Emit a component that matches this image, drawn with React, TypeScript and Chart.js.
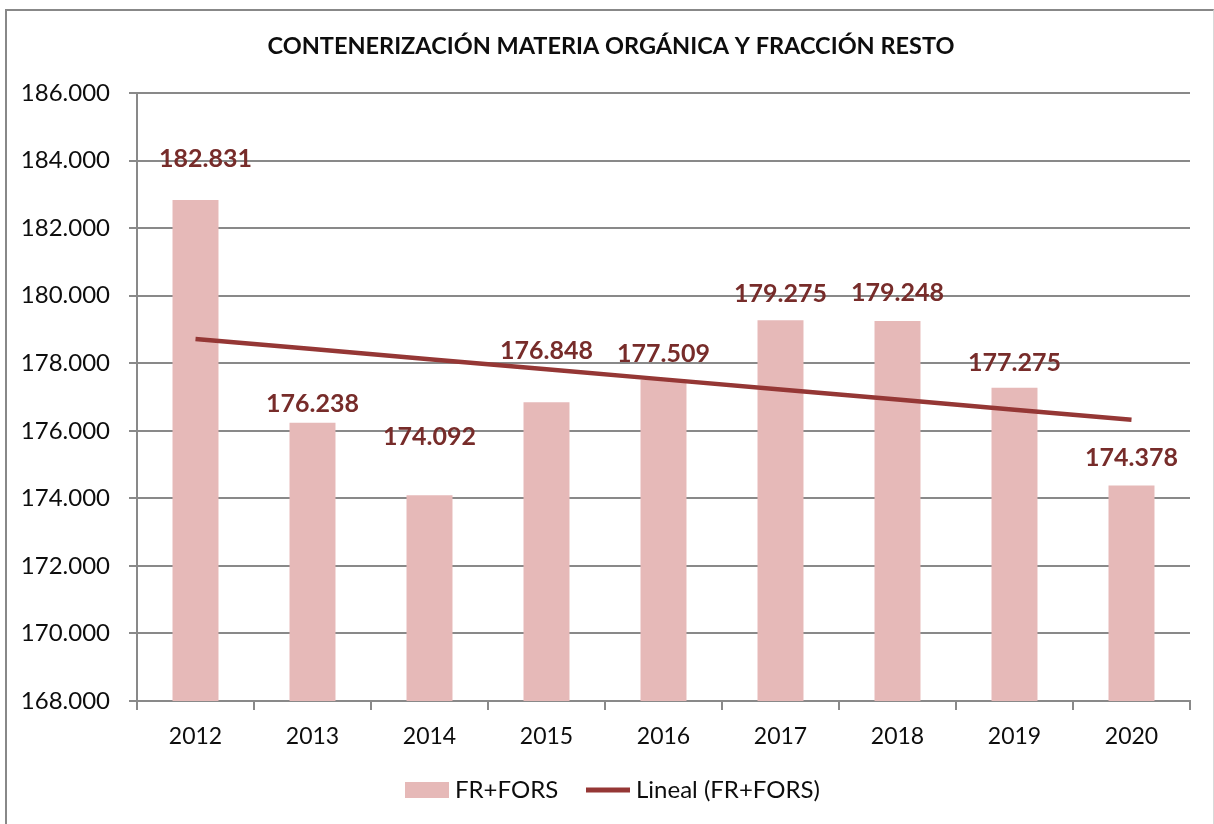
import { useEffect, useRef } from "react";
import { Chart, registerables } from "chart.js";

Chart.register(...registerables);

// ---- data ----
const categories = ["2012", "2013", "2014", "2015", "2016", "2017", "2018", "2019", "2020"];
const values = [182831, 176238, 174092, 176848, 177509, 179275, 179248, 177275, 174378];
const seriesName = "FR+FORS";
const trendName = "Lineal (FR+FORS)";
const chartTitle = "CONTENERIZACIÓN MATERIA ORGÁNICA Y FRACCIÓN RESTO";
const yMin = 168000;
const yMax = 186000;
const yStep = 2000;

// ---- manual label placement (pixels, relative to bar top) ----
const labelDx = [10, 0, 0, 0, 0, 0, 0, 0, 0];
const labelDy = [-41, -19, -58, -51, -26, -26, -28, -25, -28];

// ---- styles ----
const BAR_COLOR = "#E6B9B8";
const LINE_COLOR = "#953735";
const LABEL_COLOR = "#772C2A";
const GRID_COLOR = "#898989";
const TEXT_COLOR = "#0D0D0D";
const FONT = "Lato";

function linearTrend(v: number[]): number[] {
  const n = v.length;
  const mx = (n - 1) / 2;
  const my = v.reduce((a, b) => a + b, 0) / n;
  let num = 0;
  let den = 0;
  v.forEach((y, i) => {
    num += (i - mx) * (y - my);
    den += (i - mx) * (i - mx);
  });
  const slope = num / den;
  return v.map((_, i) => my + slope * (i - mx));
}

const fmt = (n: number) =>
  Math.round(n)
    .toString()
    .replace(/\B(?=(\d{3})+(?!\d))/g, ".");

const decorPlugin = {
  id: "decor",
  afterDatasetsDraw(chart: any) {
    const ctx = chart.ctx as CanvasRenderingContext2D;
    const meta = chart.getDatasetMeta(1);
    ctx.save();
    ctx.font = `bold 25px ${FONT}`;
    ctx.fillStyle = LABEL_COLOR;
    ctx.textAlign = "center";
    ctx.textBaseline = "middle";
    meta.data.forEach((bar: any, i: number) => {
      ctx.fillText(fmt(values[i]), bar.x + labelDx[i], bar.y + labelDy[i]);
    });
    ctx.restore();
  },
  afterDraw(chart: any) {
    const ctx = chart.ctx as CanvasRenderingContext2D;
    ctx.save();
    // title
    ctx.font = `bold 23.5px ${FONT}`;
    ctx.fillStyle = TEXT_COLOR;
    ctx.textAlign = "center";
    ctx.textBaseline = "middle";
    ctx.fillText(chartTitle, 611, 46);
    // legend
    const ly = 790;
    ctx.font = `24px ${FONT}`;
    ctx.textAlign = "left";
    ctx.fillStyle = BAR_COLOR;
    ctx.fillRect(405, ly - 8, 44, 16);
    ctx.fillStyle = TEXT_COLOR;
    ctx.fillText(seriesName, 455, ly);
    ctx.strokeStyle = LINE_COLOR;
    ctx.lineWidth = 5;
    ctx.beginPath();
    ctx.moveTo(586, ly);
    ctx.lineTo(630, ly);
    ctx.stroke();
    ctx.fillText(trendName, 636, ly);
    ctx.restore();
  },
};

export default function App() {
  const canvasRef = useRef<HTMLCanvasElement | null>(null);

  useEffect(() => {
    let chart: Chart | null = null;
    let cancelled = false;
    const build = () => {
      if (cancelled || !canvasRef.current) return;
      chart = new Chart(canvasRef.current, {
        type: "bar",
        data: {
          labels: categories,
          datasets: [
            {
              type: "line",
              label: trendName,
              data: linearTrend(values),
              borderColor: LINE_COLOR,
              backgroundColor: LINE_COLOR,
              borderWidth: 4.5,
              pointRadius: 0,
              tension: 0,
              order: 0,
            } as any,
            {
              type: "bar",
              label: seriesName,
              data: values,
              backgroundColor: BAR_COLOR,
              borderWidth: 0,
              barPercentage: 0.393,
              categoryPercentage: 1,
              order: 1,
            },
          ],
        },
        options: {
          responsive: false,
          animation: false,
          layout: { padding: { top: 93, right: 24, left: 0, bottom: 0 } },
          plugins: {
            legend: { display: false },
            title: { display: false },
            tooltip: { enabled: false },
          },
          scales: {
            x: {
              grid: {
                display: true,
                drawOnChartArea: false,
                drawTicks: true,
                tickLength: 9,
                color: GRID_COLOR,
                lineWidth: 2,
                offset: true,
              },
              border: { display: true, color: GRID_COLOR, width: 2 },
              ticks: {
                font: { family: FONT, size: 23 },
                color: TEXT_COLOR,
                padding: 13,
                maxRotation: 0,
              },
              afterFit: (s: any) => {
                s.height = 123;
              },
            },
            y: {
              min: yMin,
              max: yMax,
              grid: {
                color: GRID_COLOR,
                lineWidth: 2,
                tickLength: 8,
              },
              border: { display: true, color: GRID_COLOR, width: 2 },
              ticks: {
                stepSize: yStep,
                callback: (v: any) => fmt(Number(v)),
                font: { family: FONT, size: 24 },
                color: TEXT_COLOR,
                padding: 19,
              },
              afterFit: (s: any) => {
                s.width = 137;
              },
            },
          },
        },
        plugins: [decorPlugin],
      });
    };
    const fontsReady = (document as any).fonts
      ? Promise.all([
          (document as any).fonts.load(`23px ${FONT}`),
          (document as any).fonts.load(`bold 24px ${FONT}`),
        ]).catch(() => null)
      : Promise.resolve(null);
    fontsReady.then(build);
    return () => {
      cancelled = true;
      if (chart) chart.destroy();
    };
  }, []);

  return (
    <div
      style={{
        position: "fixed",
        left: 0,
        top: 0,
        width: 1214,
        height: 824,
        background: "#fff",
        overflow: "hidden",
      }}
    >
      <div
        style={{
          position: "absolute",
          left: 5,
          top: 9,
          width: 1206,
          height: 830,
          borderTop: "2px solid #888",
          borderLeft: "2px solid #888",
          borderRight: "1px solid #d9d9d9",
        }}
      />
      <canvas
        ref={canvasRef}
        width={1214}
        height={824}
        style={{ position: "absolute", left: 0, top: 0, width: 1214, height: 824 }}
      />
    </div>
  );
}
